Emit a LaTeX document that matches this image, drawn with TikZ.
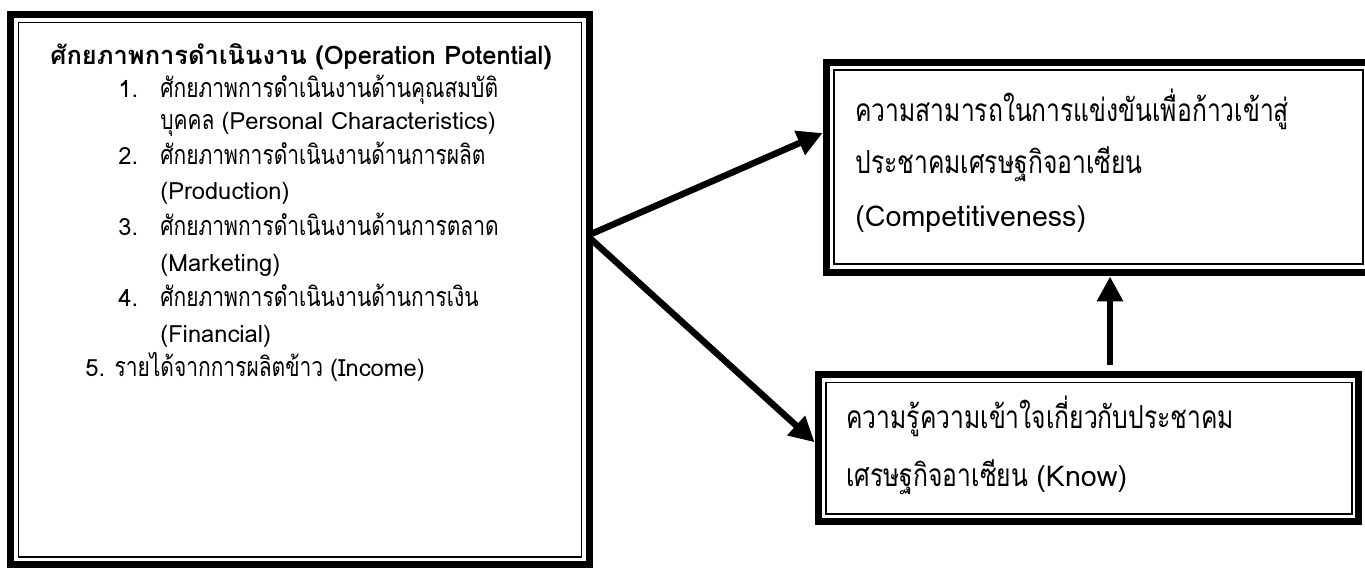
\documentclass[tikz,border=0pt]{standalone}
\usepackage{fontspec}
\setmainfont[Script=Thai, FakeStretch=0.78]{Loma}
\newfontfamily\latinfont[Script=Thai]{Loma}
\usetikzlibrary{arrows.meta, positioning}

% Latin words keep their normal width
\newcommand{\lat}[1]{{\latinfont\fontsize{13.5}{16}\selectfont #1}}
\newcommand{\biglat}[1]{{\latinfont\fontsize{16.3}{19}\selectfont #1}}

\begin{document}
\begin{tikzpicture}[
    x=0.02cm, y=-0.02cm,
    framebox/.style={rectangle, draw, line width=0.14cm, outer sep=0pt, inner sep=0pt},
    thinframe/.style={draw, line width=0.025cm},
    txt/.style={anchor=base west, inner sep=0pt, font=\fontsize{15.3}{18}\selectfont},
    bigtxt/.style={anchor=base west, inner sep=0pt, font=\fontsize{18}{21}\selectfont},
    arrow/.style={-{Triangle[length=0.5cm, width=0.5cm]}, line width=0.13cm}
]
    \useasboundingbox (0,0) rectangle (1365,572);

    % Operation potential box
    \node[framebox, minimum width=11.58cm, minimum height=11.01cm] (opbox) at (300,289.75) {};
    \draw[thinframe] ([shift={(8,8)}]opbox.north west) rectangle ([shift={(-8,-8)}]opbox.south east);
    \node[txt, font=\fontsize{14.5}{17}\selectfont\latinfont\bfseries] (optitle) at (50,64) {ศักยภาพการดำเนินงาน (Operation Potential)};
    \node[txt] (num1) at (118,97) {\lat{1.}};
    \node[txt] (item1a) at (160,97) {ศักยภาพการดำเนินงานด้านคุณสมบัติ};
    \node[txt] (item1b) at (160,129) {บุคคล \lat{(Personal Characteristics)}};
    \node[txt] (num2) at (118,164) {\lat{2.}};
    \node[txt] (item2a) at (160,164) {ศักยภาพการดำเนินงานด้านการผลิต};
    \node[txt] (item2b) at (160,199) {\lat{(Production)}};
    \node[txt] (num3) at (118,235) {\lat{3.}};
    \node[txt] (item3a) at (160,235) {ศักยภาพการดำเนินงานด้านการตลาด};
    \node[txt] (item3b) at (160,271) {\lat{(Marketing)}};
    \node[txt] (num4) at (118,306) {\lat{4.}};
    \node[txt] (item4a) at (160,306) {ศักยภาพการดำเนินงานด้านการเงิน};
    \node[txt] (item4b) at (160,342) {\lat{(Financial)}};
    \node[txt] (item5) at (85,376) {\lat{5.} รายได้จากการผลิตข้าว \lat{(Income)}};

    % Competitiveness box
    \node[framebox, minimum width=10.9cm, minimum height=4.22cm] (compbox) at (1098.5,167.5) {};
    \draw[thinframe] ([shift={(8,8)}]compbox.north west) rectangle ([shift={(-8,-9)}]compbox.south east);
    \node[bigtxt] (comp1) at (855,121) {ความสามารถในการแข่งขันเพื่อก้าวเข้าสู่};
    \node[bigtxt] (comp2) at (855,173) {ประชาคมเศรษฐกิจอาเซียน};
    \node[bigtxt] (comp3) at (855,226) {\biglat{(Competitiveness)}};

    % Knowledge box
    \node[framebox, minimum width=10.82cm, minimum height=2.95cm] (knowbox) at (1088.5,448.25) {};
    \draw[thinframe] ([shift={(8,8)}]knowbox.north west) rectangle ([shift={(-7,-8)}]knowbox.south east);
    \node[bigtxt] (know1) at (846,428) {ความรู้ความเข้าใจเกี่ยวกับประชาคม};
    \node[bigtxt] (know2) at (846,486) {เศรษฐกิจอาเซียน \biglat{(Know)}};

    % Connectors
    \draw[arrow] ([shift={(0,-55)}]opbox.east) -- ([shift={(-3.5,-34.5)}]compbox.west);
    \draw[arrow] ([shift={(0,-52)}]opbox.east) -- ([shift={(-3.5,-6)}]knowbox.west);
    \draw[arrow] ([shift={(21.5,-10)}]knowbox.north) -- ([shift={(11.5,3.5)}]compbox.south);
\end{tikzpicture}
\end{document}
